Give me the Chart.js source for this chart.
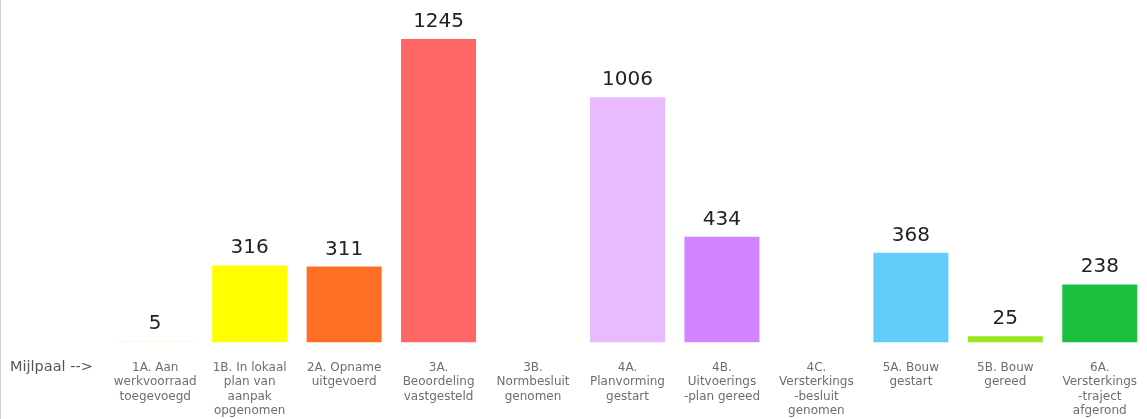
<!DOCTYPE html>
<html>
<head>
<meta charset="utf-8">
<script src="https://cdn.jsdelivr.net/npm/chart.js@4"></script>
<style>
  html, body { margin: 0; padding: 0; background: #ffffff; }
  #wrap { width: 1147px; height: 419px; }
</style>
</head>
<body>
<div id="wrap"><canvas id="c" width="1147" height="419"></canvas></div>
<script>
const categories = [
  ["1A. Aan", "werkvoorraad", "toegevoegd"],
  ["1B. In lokaal", "plan van", "aanpak", "opgenomen"],
  ["2A. Opname", "uitgevoerd"],
  ["3A.", "Beoordeling", "vastgesteld"],
  ["3B.", "Normbesluit", "genomen"],
  ["4A.", "Planvorming", "gestart"],
  ["4B.", "Uitvoerings", "-plan gereed"],
  ["4C.", "Versterkings", "-besluit", "genomen"],
  ["5A. Bouw", "gestart"],
  ["5B. Bouw", "gereed"],
  ["6A.", "Versterkings", "-traject", "afgerond"]
];
const values = [5, 316, 311, 1245, null, 1006, 434, null, 368, 25, 238];
const barColors = ["#fbfcd6", "#ffff00", "#ff6e24", "#ff6666", "#ffffff", "#e8baff", "#d084ff", "#ffffff", "#62cdfb", "#9be81a", "#1dbf3f"];
const axisPrefix = "Mijlpaal -->";

const extras = {
  id: 'extras',
  afterDatasetsDraw(chart) {
    const ctx = chart.ctx;
    const meta = chart.getDatasetMeta(0);
    ctx.save();
    ctx.font = '20px "DejaVu Sans"';
    ctx.fillStyle = '#222222';
    ctx.textAlign = 'center';
    ctx.textBaseline = 'alphabetic';
    meta.data.forEach((bar, i) => {
      const v = values[i];
      if (v === null || v === undefined) return;
      ctx.fillText(String(v), bar.x, bar.y - 12);
    });
    ctx.font = '14.5px "DejaVu Sans"';
    ctx.fillStyle = '#555555';
    ctx.textAlign = 'left';
    ctx.textBaseline = 'middle';
    ctx.fillText(axisPrefix, 10, 367);
    ctx.strokeStyle = '#d0d0d0';
    ctx.lineWidth = 1;
    ctx.beginPath();
    ctx.moveTo(0.5, 0);
    ctx.lineTo(0.5, chart.height);
    ctx.stroke();
    ctx.restore();
  }
};

new Chart(document.getElementById('c'), {
  type: 'bar',
  data: {
    labels: categories,
    datasets: [{
      data: values,
      backgroundColor: barColors,
      borderWidth: 0,
      categoryPercentage: 1.0,
      barPercentage: 0.794
    }]
  },
  options: {
    responsive: false,
    animation: false,
    layout: { padding: { left: 108, right: 0, top: 0, bottom: -17 } },
    plugins: {
      legend: { display: false },
      tooltip: { enabled: false },
      title: { display: false }
    },
    scales: {
      x: {
        grid: { display: false, drawTicks: false },
        border: { display: false },
        afterFit(scale) {
          scale.paddingLeft = 0;
          scale.paddingRight = 0;
        },
        ticks: {
          color: '#6e6e6e',
          font: { family: '"DejaVu Sans"', size: 12, lineHeight: 1.2 },
          padding: 18,
          maxRotation: 0,
          minRotation: 0,
          autoSkip: false
        }
      },
      y: {
        display: false,
        min: 0,
        max: 1405
      }
    }
  },
  plugins: [extras]
});
</script>
</body>
</html>
